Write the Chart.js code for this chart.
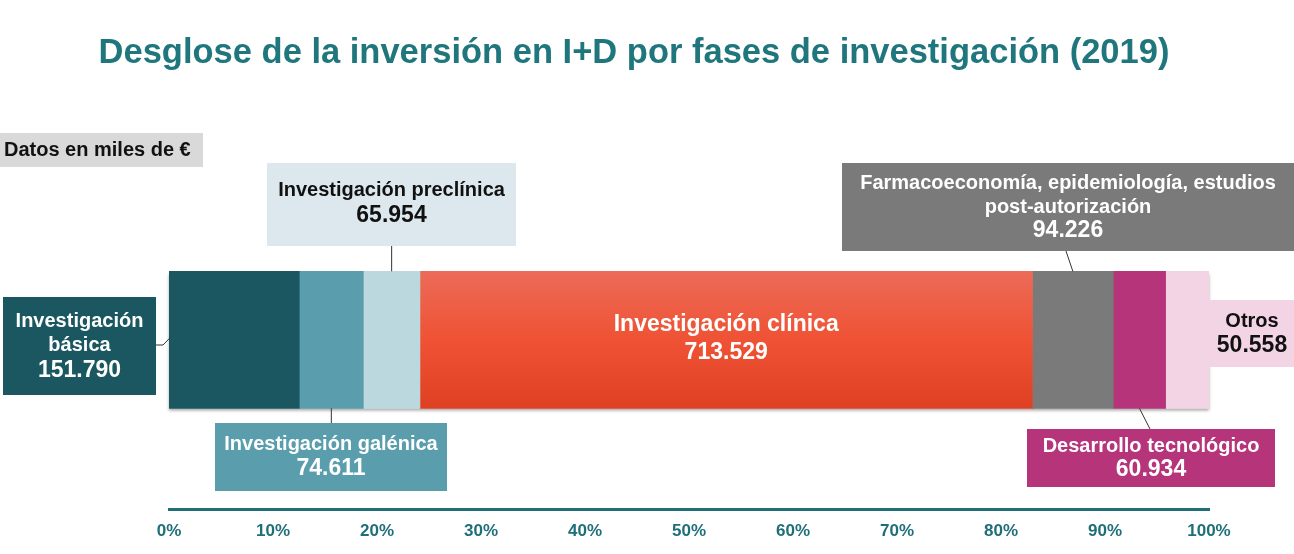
<!DOCTYPE html>
<html>
<head>
<meta charset="utf-8">
<script src="https://cdn.jsdelivr.net/npm/chart.js@4/dist/chart.umd.min.js"></script>
<style>
  html, body { margin: 0; padding: 0; background: #fff; }
  #wrap { width: 1294px; height: 554px; position: relative; }
</style>
</head>
<body>
<div id="wrap"><canvas id="grafico"></canvas></div>
<script>
// datos en miles de euros
const fases = ['Investigación básica', 'Investigación galénica', 'Investigación preclínica',
  'Investigación clínica', 'Farmacoeconomía, epidemiología, estudios post-autorización',
  'Desarrollo tecnológico', 'Otros'];
const importes = [151790, 74611, 65954, 713529, 94226, 60934, 50558];
const importesTxt = ['151.790', '74.611', '65.954', '713.529', '94.226', '60.934', '50.558'];
const colores = ['#1a5761', '#5a9dad', '#bcd8df', '#e8492c', '#7a7a7a', '#b5347a', '#f2d4e4'];
const ticksPct = [0, 10, 20, 30, 40, 50, 60, 70, 80, 90, 100];

const total = importes.reduce((a, b) => a + b, 0);
const FONT = '"Liberation Sans", Arial, sans-serif';
const GROSOR = 137;

// cajas de las etiquetas (posición de maquetación)
const cajas = [
  { i: 0, x: 3, y: 297, w: 153, h: 98, fondo: '#1a5761', color: '#fff',
    lineas: [['Investigación', 20, 321], ['básica', 20, 345], [importesTxt[0], 23, 371]],
    desde: [156, 345], codo: [163, 345], lado: 'izq' },
  { i: 1, x: 215, y: 423, w: 232, h: 68, fondo: '#5a9dad', color: '#fff',
    lineas: [['Investigación galénica', 20, 444], [importesTxt[1], 23, 469]],
    desde: null, lado: 'abajo' },
  { i: 2, x: 267, y: 163, w: 249, h: 83, fondo: '#dce8ee', color: '#111',
    lineas: [['Investigación preclínica', 20, 190], [importesTxt[2], 23, 216]],
    desde: null, lado: 'arriba' },
  { i: 4, x: 842, y: 163, w: 452, h: 88, fondo: '#7a7a7a', color: '#fff',
    lineas: [['Farmacoeconomía, epidemiología, estudios', 20, 183], ['post-autorización', 20, 207], [importesTxt[4], 23, 231]],
    desde: [1066, 251], lado: 'arriba' },
  { i: 5, x: 1027, y: 429, w: 248, h: 58, fondo: '#b5347a', color: '#fff',
    lineas: [['Desarrollo tecnológico', 20, 446], [importesTxt[5], 23, 470]],
    desde: [1150, 429], lado: 'abajo' },
  { i: 6, x: 1209, y: 300, w: 85, h: 67, fondo: '#f2d4e4', color: '#111',
    lineas: [['Otros', 20, 321], [importesTxt[6], 23, 346]],
    desde: null, lado: 'ninguno', cx: 1252 }
];

function barraY(chart) {
  const a = chart.chartArea;
  const c = (a.top + a.bottom) / 2;
  return { top: c - GROSOR / 2, bot: c + GROSOR / 2, c };
}

const anotaciones = {
  id: 'anotaciones',
  beforeDatasetsDraw(chart) {
    // sombra bajo la barra
    const ctx = chart.ctx;
    const xs = chart.scales.x;
    const b = barraY(chart);
    ctx.save();
    ctx.shadowColor = 'rgba(0,0,0,0.35)';
    ctx.shadowBlur = 3;
    ctx.shadowOffsetY = 3;
    ctx.fillStyle = '#fff';
    ctx.fillRect(xs.left, b.top, xs.right - xs.left, GROSOR);
    ctx.restore();
  },
  afterDraw(chart) {
    const ctx = chart.ctx;
    const xs = chart.scales.x;
    const b = barraY(chart);
    ctx.save();

    // título
    ctx.fillStyle = '#1f777d';
    ctx.font = 'bold 34.5px ' + FONT;
    ctx.textAlign = 'center';
    ctx.textBaseline = 'middle';
    ctx.fillText('Desglose de la inversión en I+D por fases de investigación (2019)', 634, 53);

    // nota de unidades
    ctx.fillStyle = '#d9d9d9';
    ctx.fillRect(0, 133, 203, 34);
    ctx.fillStyle = '#111';
    ctx.font = 'bold 20px ' + FONT;
    ctx.textAlign = 'left';
    ctx.fillText('Datos en miles de €', 4, 150);

    // etiqueta dentro de la barra (clínica)
    let acum = 0;
    const medios = importes.map(v => { const c = acum + v / 2; acum += v; return xs.getPixelForValue(c / total * 100); });
    ctx.fillStyle = '#fff';
    ctx.textAlign = 'center';
    ctx.font = 'bold 23px ' + FONT;
    ctx.fillText('Investigación clínica', medios[3], 325);
    ctx.font = 'bold 23px ' + FONT;
    ctx.fillText(importesTxt[3], medios[3], 353);

    // cajas y conectores
    cajas.forEach(c => {
      ctx.strokeStyle = '#333';
      ctx.lineWidth = 1;
      const mx = medios[c.i];
      ctx.beginPath();
      if (c.lado === 'izq') {
        ctx.moveTo(c.desde[0], c.desde[1]);
        ctx.lineTo(c.codo[0], c.codo[1]);
        ctx.lineTo(xs.left + 1, b.c - 2);
      } else if (c.lado === 'arriba') {
        const d = c.desde || [mx, c.y + c.h];
        ctx.moveTo(d[0], d[1]);
        ctx.lineTo(mx, b.top);
      } else if (c.lado === 'abajo') {
        const d = c.desde || [mx, c.y];
        ctx.moveTo(mx, b.bot);
        ctx.lineTo(d[0], d[1]);
      }
      ctx.stroke();

      ctx.fillStyle = c.fondo;
      ctx.fillRect(c.x, c.y, c.w, c.h);
      ctx.fillStyle = c.color;
      ctx.textAlign = 'center';
      const cx = c.cx || c.x + c.w / 2;
      c.lineas.forEach(l => {
        ctx.font = 'bold ' + l[1] + 'px ' + FONT;
        ctx.fillText(l[0], cx, l[2]);
      });
    });
    ctx.restore();
  }
};

function gradienteClinica(context) {
  const chart = context.chart;
  if (!chart.chartArea) return colores[3];
  const b = barraY(chart);
  if (!isFinite(b.top) || !isFinite(b.bot)) return colores[3];
  const g = chart.ctx.createLinearGradient(0, b.top, 0, b.bot);
  g.addColorStop(0, '#ec6b58');
  g.addColorStop(0.5, '#ef5234');
  g.addColorStop(1, '#df4023');
  return g;
}

const datasets = fases.map((f, i) => ({
  label: f,
  data: [importes[i] / total * 100],
  backgroundColor: i === 3 ? gradienteClinica : colores[i],
  borderWidth: 0,
  barThickness: GROSOR,
  stack: 'fases'
}));

new Chart(document.getElementById('grafico'), {
  type: 'bar',
  data: { labels: ['2019'], datasets },
  options: {
    indexAxis: 'y',
    responsive: true,
    maintainAspectRatio: false,
    animation: false,
    layout: { padding: { left: 169, right: 85, top: 170, bottom: 0 } },
    plugins: { legend: { display: false }, tooltip: { enabled: false } },
    scales: {
      x: {
        stacked: true,
        min: 0, max: 100,
        afterBuildTicks: s => { s.ticks = ticksPct.map(v => ({ value: v })); },
        grid: { display: false, drawTicks: false },
        border: { display: true, color: '#1f6f78', width: 3 },
        ticks: {
          padding: 12,
          color: '#1f6f78',
          font: { family: FONT, size: 17, weight: 'bold' },
          callback: v => v + '%',
          autoSkip: false,
          maxRotation: 0
        }
      },
      y: { stacked: true, display: false }
    }
  },
  plugins: [anotaciones]
});
</script>
</body>
</html>
